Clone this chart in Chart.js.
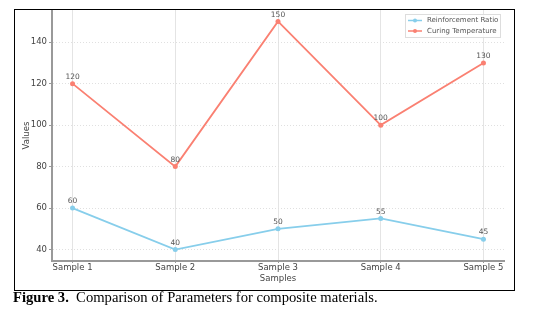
<!DOCTYPE html>
<html>
<head>
<meta charset="utf-8">
<script src="https://cdn.jsdelivr.net/npm/chart.js@4"></script>
<style>
  body { margin: 0; background: #fff; }
  #wrap { position: relative; width: 560px; height: 309px; }
  #chart { position: absolute; left: 0; top: 0; }
  #frame { position: absolute; left: 14px; top: 9px; width: 499px; height: 280px; border: 1px solid #000; pointer-events: none; }
  #caption { position: absolute; left: 13px; top: 290px; font-family: "Liberation Serif", "Times New Roman", serif; font-size: 14px; color: #000; white-space: nowrap; transform: scaleX(1.045); transform-origin: 0 0; }
</style>
</head>
<body>
<div id="wrap">
  <canvas id="chart" width="560" height="290"></canvas>
  <div id="frame"></div>
  <div id="caption"><b>Figure 3.</b>&nbsp; Comparison of Parameters for composite materials.</div>
</div>
<script>
// data
var samples = ["Sample 1", "Sample 2", "Sample 3", "Sample 4", "Sample 5"];
var reinforcement = [60, 40, 50, 55, 45];
var curingTemp = [120, 80, 150, 100, 130];
var yTicks = [40, 60, 80, 100, 120, 140];

var blue = "#87CEEB";
var red = "#FA8072";

function toPoints(vals) {
  return vals.map(function (v, i) { return { x: i, y: v }; });
}

// value labels above each point
var pointLabels = {
  id: "pointLabels",
  afterDatasetsDraw: function (chart) {
    var ctx = chart.ctx;
    ctx.save();
    ctx.font = "7.5px 'DejaVu Sans'";
    ctx.fillStyle = "#555";
    ctx.textAlign = "center";
    ctx.textBaseline = "bottom";
    chart.data.datasets.forEach(function (ds, di) {
      chart.getDatasetMeta(di).data.forEach(function (pt, i) {
        ctx.fillText(ds.data[i].y, pt.x, pt.y - 3);
      });
    });
    ctx.restore();
  }
};

// legend box in the upper right
var boxLegend = {
  id: "boxLegend",
  afterDraw: function (chart) {
    var ctx = chart.ctx;
    var x0 = 405, y0 = 14, w = 95, h = 23;
    ctx.save();
    ctx.fillStyle = "rgba(255,255,255,0.8)";
    ctx.strokeStyle = "#ddd";
    ctx.lineWidth = 1;
    ctx.fillRect(x0, y0, w, h);
    ctx.strokeRect(x0 + 0.5, y0 + 0.5, w, h);
    ctx.font = "7px 'DejaVu Sans'";
    ctx.textBaseline = "middle";
    chart.data.datasets.forEach(function (ds, i) {
      var y = y0 + 6.5 + i * 10.5;
      ctx.strokeStyle = ds.borderColor;
      ctx.lineWidth = 1.5;
      ctx.beginPath();
      ctx.moveTo(x0 + 3, y);
      ctx.lineTo(x0 + 17, y);
      ctx.stroke();
      ctx.fillStyle = ds.borderColor;
      ctx.beginPath();
      ctx.arc(x0 + 10, y, 2, 0, Math.PI * 2);
      ctx.fill();
      ctx.fillStyle = "#555";
      ctx.fillText(ds.label, x0 + 22, y);
    });
    ctx.restore();
  }
};

var tickFont = { family: "DejaVu Sans", size: 8.5 };

new Chart(document.getElementById("chart"), {
  type: "line",
  data: {
    datasets: [
      {
        label: "Reinforcement Ratio",
        data: toPoints(reinforcement),
        borderColor: blue,
        backgroundColor: blue,
        borderWidth: 1.8,
        pointRadius: 2.5,
        pointBorderWidth: 0
      },
      {
        label: "Curing Temperature",
        data: toPoints(curingTemp),
        borderColor: red,
        backgroundColor: red,
        borderWidth: 1.8,
        pointRadius: 2.5,
        pointBorderWidth: 0
      }
    ]
  },
  options: {
    responsive: false,
    animation: false,
    layout: { padding: { left: 22, top: 10, right: 56, bottom: 6 } },
    plugins: {
      legend: { display: false },
      tooltip: { enabled: false }
    },
    scales: {
      x: {
        type: "linear",
        min: -0.2,
        max: 4.2,
        afterBuildTicks: function (s) {
          s.ticks = samples.map(function (_, i) { return { value: i }; });
        },
        afterFit: function (s) { s.height = 23; },
        ticks: {
          callback: function (v) { return samples[v]; },
          font: tickFont,
          color: "#444",
          padding: 0,
          maxRotation: 0
        },
        grid: { color: "#e4e4e4", tickColor: "#999", tickLength: 2, lineWidth: 1 },
        border: { color: "#999", width: 2 },
        title: {
          display: true,
          text: "Samples",
          font: tickFont,
          color: "#444",
          padding: 0
        }
      },
      y: {
        min: 34.5,
        max: 155.5,
        afterBuildTicks: function (s) {
          s.ticks = yTicks.map(function (v) { return { value: v }; });
        },
        afterFit: function (s) { s.width = 30; },
        ticks: {
          font: tickFont,
          color: "#444",
          padding: 2
        },
        grid: { color: "#e0e0e0", tickColor: "#999", tickLength: 3, lineWidth: 1 },
        border: { color: "#999", width: 2, dash: [1, 2] },
        title: {
          display: true,
          text: "Values",
          font: tickFont,
          color: "#444",
          padding: 0
        }
      }
    }
  },
  plugins: [pointLabels, boxLegend]
});
</script>
</body>
</html>
